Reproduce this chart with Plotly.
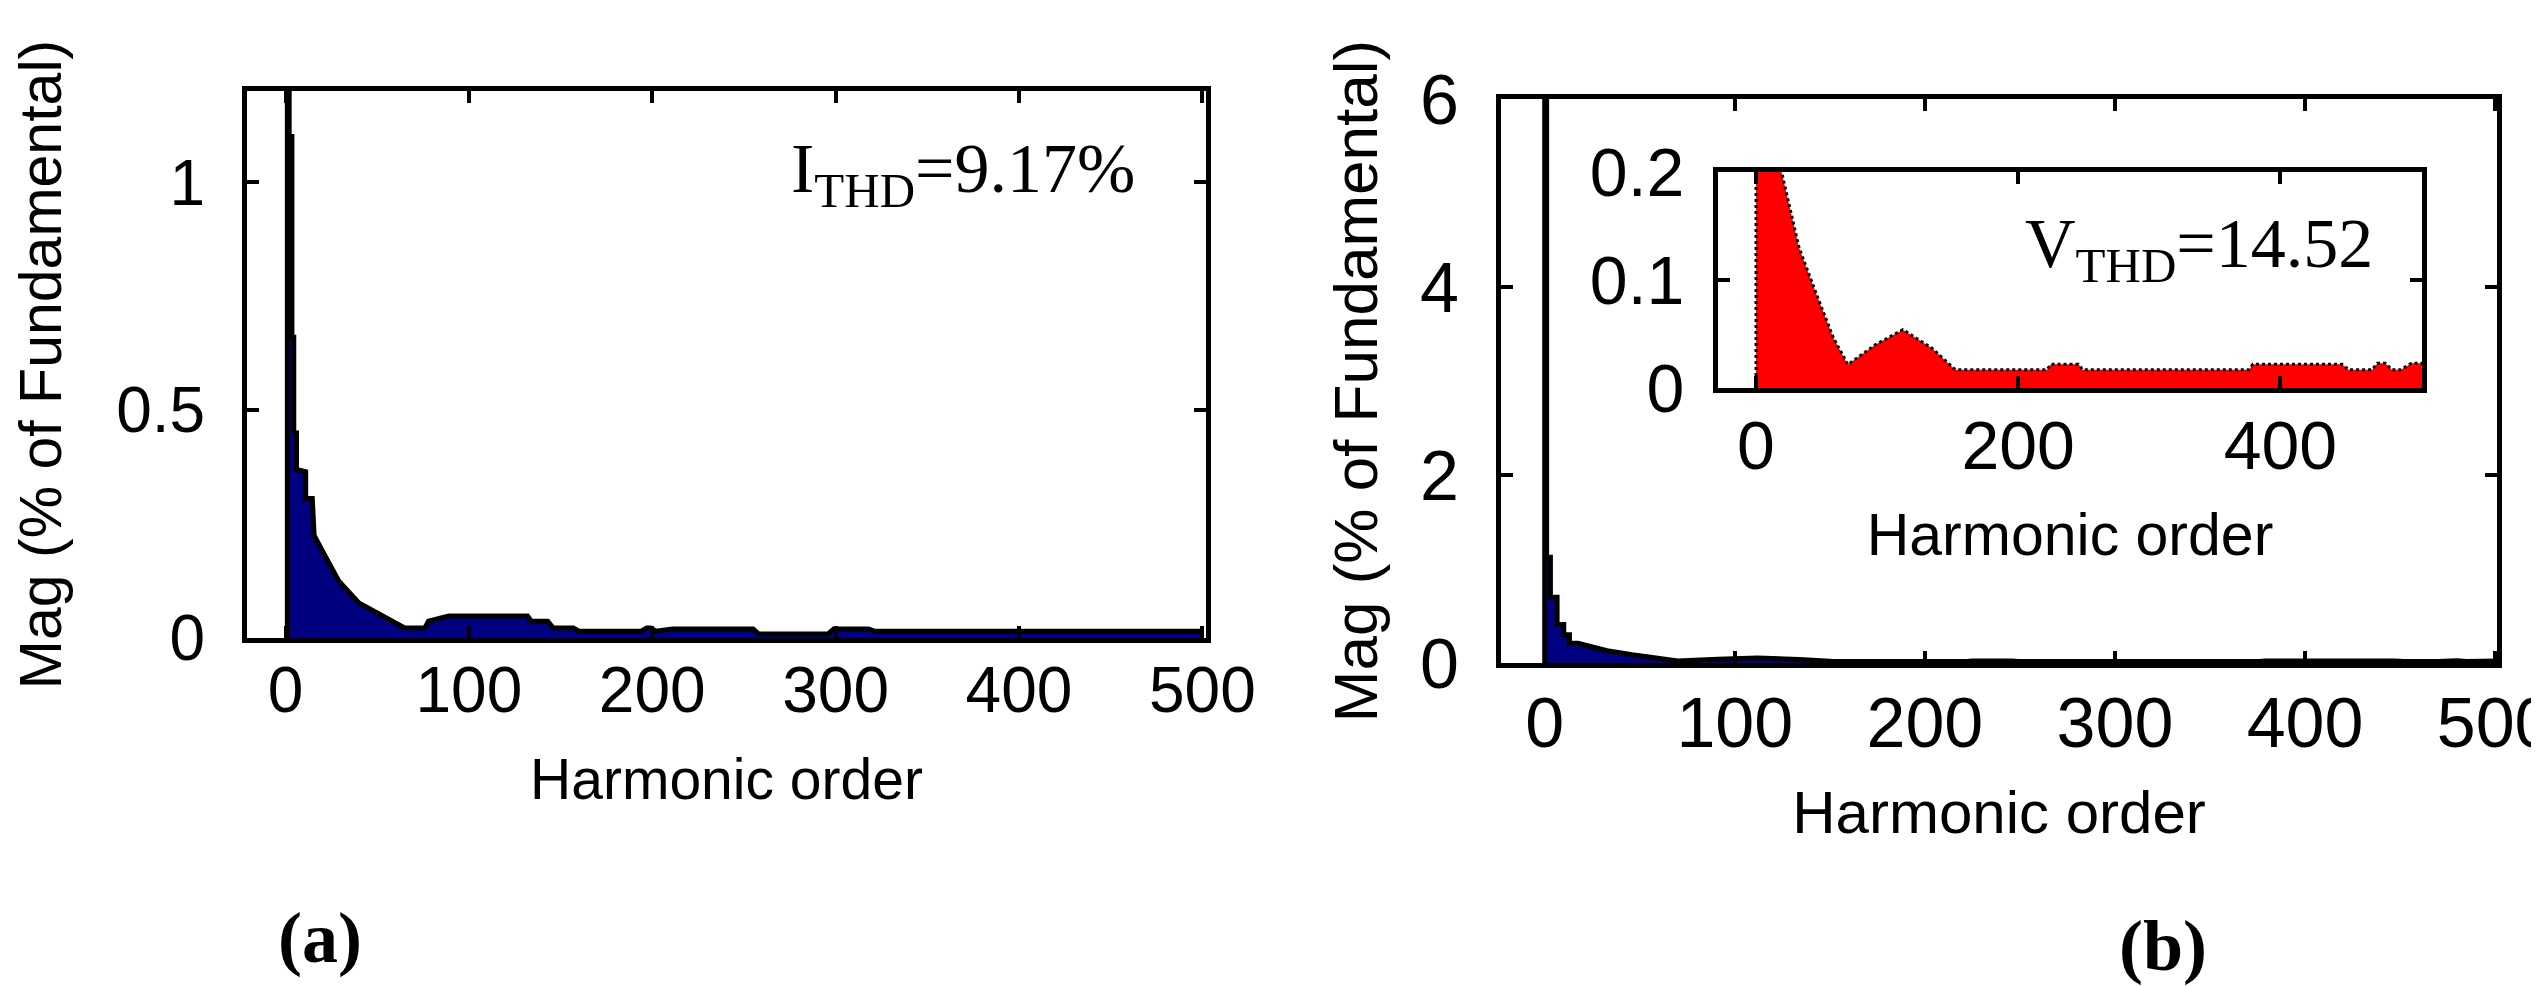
import plotly.graph_objects as go

W, H = 2539, 986

# (a) current harmonic spectrum (% of fundamental)
harm_a = [1, 1, 2, 2, 3.5, 3.5, 4.5, 4.5, 6, 6, 11, 11, 14.6, 15.6, 21.6, 29, 40, 52, 59, 65,
          76, 78, 89, 132, 134, 143, 146, 157, 160, 194, 197, 199, 202, 211, 255, 258, 296, 299,
          318, 321, 500]
mag_a = [0, 100, 100, 1.10, 1.10, 0.66, 0.66, 0.45, 0.45, 0.37, 0.365, 0.306, 0.306, 0.225, 0.18,
         0.125, 0.077, 0.05, 0.033, 0.022, 0.022, 0.037, 0.048, 0.048, 0.037, 0.037, 0.022, 0.022,
         0.015, 0.015, 0.022, 0.022, 0.015, 0.020, 0.020, 0.009, 0.009, 0.020, 0.020, 0.015, 0.015]

# (b) voltage harmonic spectrum, main plot and zoomed inset use the same data
harm_b = [0, 0, 1, 1, 3, 3, 6.5, 6.5, 10, 10, 13, 13, 17.5, 19.5, 32.8, 46, 59, 70, 91, 112,
          134, 152, 222, 225, 246, 249, 376, 379, 447, 452, 470, 474, 480, 485, 492, 500, 508]
mag_b = [0, 100, 100, 1.125, 1.125, 0.70, 0.70, 0.41, 0.41, 0.30, 0.30, 0.21, 0.21, 0.2, 0.13,
         0.087, 0.0465, 0.0217, 0.04, 0.054, 0.037, 0.017, 0.017, 0.022, 0.022, 0.017, 0.017,
         0.022, 0.022, 0.017, 0.017, 0.023, 0.023, 0.017, 0.017, 0.023, 0.023]

x_ticks = [0, 100, 200, 300, 400, 500]
y_ticks_a = [0, 0.5, 1]
y_ticks_b = [0, 2, 4, 6]
x_ticks_inset = [0, 200, 400]
y_ticks_inset = [0, 0.1, 0.2]

SANS = "Arial, Liberation Sans, sans-serif"
SERIF = "Times New Roman, Liberation Serif, serif"
NAVY = "#000080"


def dom_x(left, right):
    return [left / W, right / W]


def dom_y(top, bottom):
    return [1 - bottom / H, 1 - top / H]


def box_axis(tick_size, **kw):
    base = dict(
        showline=True, linecolor="black", linewidth=5, mirror="ticks",
        ticks="inside", ticklen=12, tickwidth=4, tickcolor="black",
        showgrid=False, zeroline=False, automargin=False,
        ticklabeloverflow="allow",
        tickfont=dict(family=SANS, size=tick_size, color="black"),
    )
    base.update(kw)
    return base


def title(text, size, standoff):
    return dict(text=text, font=dict(family=SANS, size=size, color="black"), standoff=standoff)


fig = go.Figure()

fig.add_trace(go.Scatter(
    x=harm_a, y=mag_a, mode="lines", fill="tozeroy", fillcolor=NAVY,
    line=dict(color="black", width=5), xaxis="x", yaxis="y", showlegend=False,
))
fig.add_trace(go.Scatter(
    x=harm_b, y=mag_b, mode="lines", fill="tozeroy", fillcolor=NAVY,
    line=dict(color="black", width=5), xaxis="x2", yaxis="y2", showlegend=False,
))
fig.add_trace(go.Scatter(
    x=harm_b, y=mag_b, mode="lines", fill="tozeroy", fillcolor="#ff0000",
    line=dict(color="black", width=3, dash="dot"), xaxis="x3", yaxis="y3", showlegend=False,
))

fig.update_layout(
    width=W, height=H,
    margin=dict(l=0, r=0, t=0, b=0),
    paper_bgcolor="white", plot_bgcolor="white",
    xaxis=box_axis(64, domain=dom_x(239, 1198), range=[-21, 502], tickvals=x_ticks,
                   ticklabelstandoff=-8, anchor="y",
                   title=title("Harmonic order", 57, 36)),
    yaxis=box_axis(64, domain=dom_y(83, 630), range=[0, 1.2], tickvals=y_ticks_a,
                   ticklabelstandoff=24, anchor="x",
                   title=title("Mag (% of Fundamental)", 59, 37)),
    xaxis2=box_axis(70, domain=dom_x(1493, 2489), range=[-23, 501], tickvals=x_ticks,
                    ticklabelstandoff=-5, anchor="y2",
                    title=title("Harmonic order", 60, 31)),
    yaxis2=box_axis(70, domain=dom_y(91, 655), range=[0, 6], tickvals=y_ticks_b,
                    ticklabelstandoff=23, anchor="x2",
                    title=title("Mag (% of Fundamental)", 62, 24)),
    xaxis3=box_axis(68, domain=dom_x(1710, 2414), range=[-29, 508], tickvals=x_ticks_inset,
                    ticklabelstandoff=-6, anchor="y3",
                    title=title("Harmonic order", 59, 34)),
    yaxis3=box_axis(68, domain=dom_y(164, 380), range=[0, 0.2], tickvals=y_ticks_inset,
                    ticklabelstandoff=15, anchor="x3"),
)

# THD labels and panel letters
fig.add_annotation(
    text="I<sub>THD</sub>=9.17%", x=781 / W, y=1 - 166 / H, xref="paper", yref="paper",
    xanchor="left", yanchor="middle", showarrow=False,
    font=dict(family=SERIF, size=70, color="black"),
)
fig.add_annotation(
    text="V<sub>THD</sub>=14.52", x=2015 / W, y=1 - 241 / H, xref="paper", yref="paper",
    xanchor="left", yanchor="middle", showarrow=False,
    font=dict(family=SERIF, size=70, color="black"),
)
fig.add_annotation(
    text="<b>(a)</b>", x=312 / W, y=1 - 930 / H, xref="paper", yref="paper",
    xanchor="center", yanchor="middle", showarrow=False,
    font=dict(family=SERIF, size=72, color="black"),
)
fig.add_annotation(
    text="<b>(b)</b>", x=2155 / W, y=1 - 938 / H, xref="paper", yref="paper",
    xanchor="center", yanchor="middle", showarrow=False,
    font=dict(family=SERIF, size=72, color="black"),
)

fig.write_html("out.html")
